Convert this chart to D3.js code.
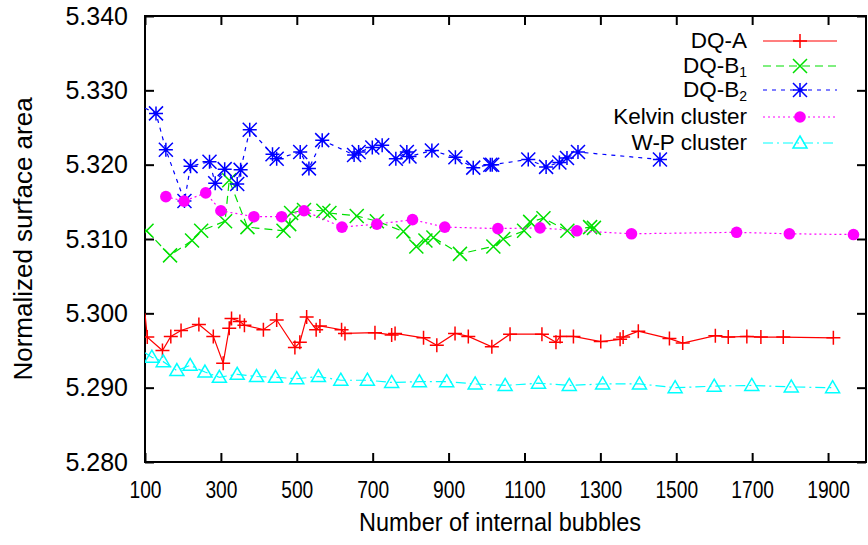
<!DOCTYPE html>
<html><head><meta charset="utf-8">
<script src="https://cdn.jsdelivr.net/npm/d3@7/dist/d3.min.js"></script>
<style>body{margin:0;background:#fff}svg{display:block}text{font-family:"Liberation Sans",Arial,sans-serif;fill:#000}</style>
</head><body><svg id="c" width="868" height="545"></svg>
<script>
const xTicks = [100,300,500,700,900,1100,1300,1500,1700,1900];
const yTicks = [5.280,5.290,5.300,5.310,5.320,5.330,5.340];
const seriesNames = ["DQ-A","DQ-B1","DQ-B2","Kelvin cluster","W-P cluster"];

const dqA_x = [100,106,146,168,195,242,280,306,322,328,350,362,412,447,495,508,526,551,561,618,627,706,750,759,834,869,917,952,1014,1062,1146,1183,1194,1229,1301,1352,1360,1400,1482,1517,1603,1637,1686,1723,1782,1914];
const dqA_y = [5.3000,5.2968,5.2950,5.2969,5.2977,5.2985,5.2969,5.2933,5.2980,5.2993,5.2989,5.2984,5.2978,5.2991,5.2954,5.2961,5.2995,5.2978,5.2983,5.2978,5.2973,5.2974,5.2971,5.2973,5.2967,5.2957,5.2973,5.2969,5.2955,5.2972,5.2972,5.2961,5.2969,5.2969,5.2962,5.2965,5.2968,5.2976,5.2966,5.2960,5.2970,5.2968,5.2969,5.2968,5.2968,5.2967];

const dqB1_x = [104,166,224,248,311,322,370,465,480,485,519,570,586,658,711,781,815,839,860,930,1018,1044,1099,1115,1150,1213,1273,1283];
const dqB1_y = [5.3111,5.3078,5.3098,5.3111,5.3124,5.3179,5.3116,5.3111,5.3120,5.3135,5.3139,5.3138,5.3135,5.3131,5.3124,5.3110,5.3090,5.3098,5.3102,5.3080,5.3090,5.3100,5.3111,5.3123,5.3128,5.3111,5.3116,5.3115];

const dqB2_x = [100,129,155,204,220,270,285,310,343,352,376,436,447,509,532,567,651,663,699,725,761,790,797,856,918,965,1010,1015,1110,1157,1192,1212,1241,1457];
const dqB2_y = [5.3276,5.3269,5.3220,5.3151,5.3198,5.3204,5.3175,5.3194,5.3174,5.3193,5.3247,5.3214,5.3208,5.3217,5.3195,5.3233,5.3213,5.3217,5.3223,5.3226,5.3208,5.3217,5.3211,5.3219,5.3210,5.3196,5.3200,5.3200,5.3207,5.3197,5.3203,5.3209,5.3217,5.3207];

const kelvin_x = [155,203,260,300,387,460,519,619,711,805,890,1030,1141,1238,1382,1659,1798,1967];
const kelvin_y = [5.3157,5.3151,5.3162,5.3138,5.3130,5.3130,5.3138,5.3116,5.3120,5.3126,5.3116,5.3114,5.3115,5.3111,5.3107,5.3109,5.3107,5.3106];

const wp_x = [100,118,148,184,219,258,296,343,394,444,500,557,616,686,750,823,895,970,1049,1137,1218,1306,1403,1497,1600,1699,1803,1912];
const wp_y = [5.2947,5.2941,5.2935,5.2923,5.2930,5.2921,5.2914,5.2918,5.2915,5.2914,5.2912,5.2915,5.2910,5.2910,5.2907,5.2908,5.2908,5.2905,5.2903,5.2906,5.2903,5.2905,5.2905,5.2900,5.2902,5.2903,5.2901,5.2900];

const L=145,R=866,T=16,B=462;
const svg=d3.select("#c");
const x=d3.scaleLinear().domain([100,2000]).range([L,R]);
const y=d3.scaleLinear().domain([5.280,5.340]).range([B,T]);

svg.append("defs").append("clipPath").attr("id","clip").append("rect").attr("x",L).attr("y",T).attr("width",R-L).attr("height",B-T);

const tl=9;
const gB=svg.append("g").attr("transform",`translate(0,${B})`).call(d3.axisBottom(x).tickValues(xTicks).tickSizeInner(-tl).tickSizeOuter(0).tickFormat(d3.format("d")));
const gT=svg.append("g").attr("transform",`translate(0,${T})`).call(d3.axisTop(x).tickValues(xTicks).tickSizeInner(-tl).tickSizeOuter(0).tickFormat(""));
const gL=svg.append("g").attr("transform",`translate(${L},0)`).call(d3.axisLeft(y).tickValues(yTicks).tickSizeInner(-tl).tickSizeOuter(0).tickPadding(17).tickFormat(d3.format(".3f")));
const gR=svg.append("g").attr("transform",`translate(${R},0)`).call(d3.axisRight(y).tickValues(yTicks).tickSizeInner(-tl).tickSizeOuter(0).tickFormat(""));
[gB,gT,gL,gR].forEach(g=>{g.select(".domain").remove();g.selectAll("line").attr("stroke","#000").attr("stroke-width",2);});
gL.selectAll("text").style("font-size","25px").style("font-family","'Liberation Sans',Arial,sans-serif");
gB.selectAll(".tick text").attr("y",null).attr("dy",null)
  .attr("transform","translate(0,36) scale(0.8,1)")
  .style("font-size","24px").style("font-family","'Liberation Sans',Arial,sans-serif");
svg.append("rect").attr("x",L).attr("y",T).attr("width",R-L).attr("height",B-T).attr("fill","none").attr("stroke","#000").attr("stroke-width",2);

svg.append("text").attr("x",500).attr("y",531).attr("text-anchor","middle").attr("transform","translate(500,0) scale(0.94,1) translate(-500,0)").style("font-size","25px").text("Number of internal bubbles");
svg.append("text").attr("transform",`translate(32,${(T+B)/2}) rotate(-90)`).attr("text-anchor","middle").style("font-size","26px").text("Normalized surface area");

const series=[
 {name:seriesNames[0],xs:dqA_x,ys:dqA_y,color:"#ff0000",dash:null,marker:"plus"},
 {name:seriesNames[1],xs:dqB1_x,ys:dqB1_y,color:"#00e000",dash:"8,5",marker:"cross"},
 {name:seriesNames[2],xs:dqB2_x,ys:dqB2_y,color:"#0000ff",dash:"4,5",marker:"star"},
 {name:seriesNames[3],xs:kelvin_x,ys:kelvin_y,color:"#ff00ff",dash:"2,3",marker:"circle"},
 {name:seriesNames[4],xs:wp_x,ys:wp_y,color:"#00ffff",dash:"10,4,2,4",marker:"tri"}
];
const s=7;
function marker(g,type,cx,cy,color){
  if(type==="plus"){g.append("path").attr("d",`M${cx-s},${cy}H${cx+s}M${cx},${cy-s}V${cy+s}`).attr("stroke",color).attr("stroke-width",1.5).attr("fill","none");}
  else if(type==="cross"){g.append("path").attr("d",`M${cx-s},${cy-s}L${cx+s},${cy+s}M${cx-s},${cy+s}L${cx+s},${cy-s}`).attr("stroke",color).attr("stroke-width",1.5).attr("fill","none");}
  else if(type==="star"){g.append("path").attr("d",`M${cx-s},${cy}H${cx+s}M${cx},${cy-s}V${cy+s}M${cx-s},${cy-s}L${cx+s},${cy+s}M${cx-s},${cy+s}L${cx+s},${cy-s}`).attr("stroke",color).attr("stroke-width",1.5).attr("fill","none");}
  else if(type==="circle"){g.append("circle").attr("cx",cx).attr("cy",cy).attr("r",5.8).attr("fill",color);}
  else if(type==="tri"){g.append("path").attr("d",`M${cx},${cy-s}L${cx+s},${cy+5}L${cx-s},${cy+5}Z`).attr("stroke",color).attr("stroke-width",1.5).attr("fill","none");}
}
const line=d3.line().x(d=>x(d[0])).y(d=>y(d[1]));
const plot=svg.append("g").attr("clip-path","url(#clip)");
series.forEach(sr=>{
  const pts=sr.xs.map((v,i)=>[v,sr.ys[i]]);
  plot.append("path").datum(pts).attr("d",line).attr("fill","none").attr("stroke",sr.color).attr("stroke-width",1.2).attr("stroke-dasharray",sr.dash);
  pts.forEach(p=>{ if(p[0]>100) marker(plot,sr.marker,x(p[0]),y(p[1]),sr.color); });
});

const lg=svg.append("g");
const rowsY=[41,66,90,117,143];
series.forEach((sr,i)=>{
  const ry=rowsY[i];
  const t=lg.append("text").attr("x",747).attr("y",ry+7).attr("text-anchor","end").style("font-size","22.5px");
  if(i===1||i===2){t.text("DQ-B");t.append("tspan").attr("dy",4).style("font-size","14px").text(i===1?"1":"2");}
  else t.text(sr.name);
  lg.append("line").attr("x1",763).attr("x2",837).attr("y1",ry).attr("y2",ry).attr("stroke",sr.color).attr("stroke-width",1.2).attr("stroke-dasharray",sr.dash);
  marker(lg,sr.marker,800,ry,sr.color);
});
</script></body></html>
